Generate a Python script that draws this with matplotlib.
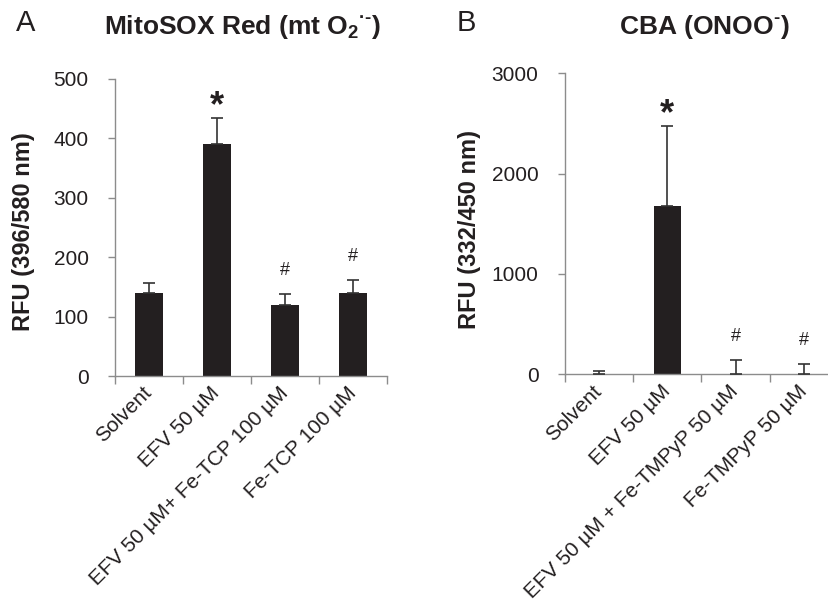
import matplotlib
matplotlib.use("Agg")
import matplotlib.pyplot as plt
import numpy as np

plt.rcParams['font.family'] = ['Liberation Sans', 'DejaVu Sans']
plt.rcParams['mathtext.fontset'] = 'custom'
plt.rcParams['mathtext.rm'] = 'Liberation Sans:bold'
plt.rcParams['mathtext.bf'] = 'Liberation Sans:bold'

# panel A - MitoSOX Red
labels_a = ['Solvent', 'EFV 50 µM', 'EFV 50 µM+ Fe-TCP 100 µM', 'Fe-TCP 100 µM']
rfu_a = [139, 390, 120, 140]
err_a = [18, 45, 18, 21]
marks_a = ['', '*', '#', '#']

# panel B - CBA
labels_b = ['Solvent', 'EFV 50 µM', 'EFV 50 µM + Fe-TMPyP 50 µM', 'Fe-TMPyP 50 µM']
rfu_b = [5, 1678, 2, 2]
err_b = [28, 800, 138, 101]
marks_b = ['', '*', '#', '#']

bar_col = '#231f20'
axis_col = '#8c8c8c'

fig = plt.figure(figsize=(8.29, 6.02), dpi=100)
ax_a = fig.add_axes([0.1387, 0.3754, 0.3281, 0.4934])
ax_b = fig.add_axes([0.6815, 0.3782, 0.3293, 0.5000])


def draw_panel(ax, labels, vals, errs, marks, ymax, step):
    x = np.arange(len(vals))
    ax.bar(x, vals, width=0.4, color=bar_col, zorder=2)
    ax.errorbar(x, vals, yerr=[np.zeros(len(errs)), errs], fmt='none',
                ecolor='#333333', elinewidth=1.2, capsize=4, capthick=1.2, zorder=3)
    for xi, v, e, m in zip(x, vals, errs, marks):
        if m == '*':
            ax.annotate(m, (xi, v + e), xytext=(0, 1), textcoords='offset points',
                        ha='center', va='baseline', fontsize=26, fontweight='bold',
                        color=bar_col)
        elif m == '#':
            ax.annotate(m, (xi, v + e), xytext=(0, 11), textcoords='offset points',
                        ha='center', va='bottom', fontsize=13, color=bar_col)
    ax.set_xlim(-0.5, len(vals) - 0.5)
    ax.set_ylim(0, ymax)
    ax.set_yticks(np.arange(0, ymax + 1, step))
    ax.set_xticks(np.arange(len(vals) + 1) - 0.5)
    ax.set_xticklabels([])
    ax.set_xticks(x, minor=True)
    ax.set_xticklabels(labels, minor=True, rotation=45, ha='right', va='center',
                       rotation_mode='anchor', fontsize=15, color=bar_col)
    ax.tick_params(axis='x', which='major', direction='out', length=6,
                   color=axis_col, width=1)
    ax.tick_params(axis='x', which='minor', length=0, pad=10)
    ax.tick_params(axis='y', direction='out', length=5, color=axis_col, width=1,
                   labelsize=15, labelcolor=bar_col, pad=14)
    for s in ['top', 'right']:
        ax.spines[s].set_visible(False)
    for s in ['left', 'bottom']:
        ax.spines[s].set_color(axis_col)
        ax.spines[s].set_linewidth(1)


draw_panel(ax_a, labels_a, rfu_a, err_a, marks_a, 500, 100)
draw_panel(ax_b, labels_b, rfu_b, err_b, marks_b, 3000, 1000)

fig.text(24 / 829, 1 - 232 / 602, 'RFU (396/580 nm)', rotation=90, ha='center',
         va='center', fontsize=17, fontweight='bold', color=bar_col)
fig.text(470 / 829, 1 - 230 / 602, 'RFU (332/450 nm)', rotation=90, ha='center',
         va='center', fontsize=17, fontweight='bold', color=bar_col)

fig.text(243 / 829, 1 - 27 / 602, r'MitoSOX Red (mt O$_\mathbf{2}$$^{\mathbf{·}\text{-}}$)',
         ha='center', va='center', fontsize=19, fontweight='bold', color=bar_col)
fig.text(704 / 829, 1 - 27 / 602, r'CBA (ONOO$^{\text{-}}$)',
         ha='center', va='center', fontsize=19, fontweight='bold', color=bar_col)

fig.text(26 / 829, 1 - 23 / 602, 'A', ha='center', va='center', fontsize=21,
         color=bar_col)
fig.text(466 / 829, 1 - 23 / 602, 'B', ha='center', va='center', fontsize=21,
         color=bar_col)

fig.savefig('out.png', dpi=100)
